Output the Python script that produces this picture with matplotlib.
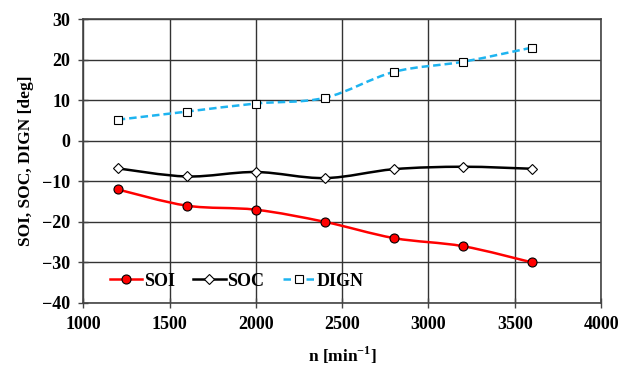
import numpy as np
import matplotlib.pyplot as plt
from matplotlib.path import Path
from matplotlib.patches import PathPatch
from matplotlib.lines import Line2D

plt.rcParams['font.family'] = ['Liberation Serif', 'DejaVu Serif']
plt.rcParams['font.weight'] = 'bold'
plt.rcParams['mathtext.fontset'] = 'custom'
plt.rcParams['mathtext.rm'] = 'Liberation Serif:bold'
plt.rcParams['mathtext.bf'] = 'Liberation Serif:bold'

rpm = [1200, 1600, 2000, 2400, 2800, 3200, 3600]
soi = [-12, -16, -17, -20, -24, -26, -30]
soc = [-6.8, -8.8, -7.7, -9.2, -7.0, -6.4, -6.9]
dign = [5.2, 7.2, 9.2, 10.6, 17.0, 19.5, 23.0]


def smooth_path(x, y):
    # Catmull-Rom style bezier, like Excel "smoothed line"
    pts = np.column_stack([x, y]).astype(float)
    verts = [pts[0]]
    codes = [Path.MOVETO]
    n = len(pts)
    for i in range(n - 1):
        p0 = pts[i - 1] if i > 0 else pts[i]
        p1 = pts[i]
        p2 = pts[i + 1]
        p3 = pts[i + 2] if i + 2 < n else pts[i + 1]
        c1 = p1 + (p2 - p0) / 6
        c2 = p2 - (p3 - p1) / 6
        verts += [c1, c2, p2]
        codes += [Path.CURVE4] * 3
    return Path(verts, codes)


fig = plt.figure(figsize=(6.21, 3.69), dpi=100)
ax = fig.add_axes([0.134, 0.179, 0.834, 0.769])

series = [
    (soi, '#ff0000', '-', 'o', '#ff0000', 6.5, 'SOI'),
    (soc, 'black', '-', 'D', 'white', 5, 'SOC'),
    (dign, '#1eb4f0', (0, (3, 1.6)), 's', 'white', 5.5, 'DIGN'),
]
handles = []
for vals, col, ls, mk, mfc, ms, lab in series:
    ax.add_patch(PathPatch(smooth_path(rpm, vals), fill=False, edgecolor=col,
                           lw=1.8, linestyle=ls, zorder=3))
    ax.plot(rpm, vals, linestyle='none', marker=mk, markersize=ms,
            markerfacecolor=mfc, markeredgecolor='black', markeredgewidth=0.8, zorder=4)
    handles.append(Line2D([], [], color=col, lw=1.8, linestyle=ls, marker=mk,
                          markersize=ms, markerfacecolor=mfc,
                          markeredgecolor='black', markeredgewidth=0.8, label=lab))

ax.set_xlim(1000, 4000)
ax.set_ylim(-40, 30)
ax.set_xticks(range(1000, 4001, 500))
ax.set_yticks(range(-40, 31, 10))
ax.grid(True, color='#333333', lw=1.0)
ax.set_axisbelow(True)
for s in ax.spines.values():
    s.set_color('#444444')
    s.set_linewidth(1.2)
ax.tick_params(labelsize=13, direction='inout', length=7, width=1, color='#444444', pad=6)
ax.set_xlabel('n [min$^{-1}$]', fontsize=12.5, fontweight='bold', labelpad=8)
ax.set_ylabel('SOI, SOC, DIGN [deg]', fontsize=12.5, fontweight='bold', labelpad=6)

ax.legend(handles=handles, loc='lower left', bbox_to_anchor=(0.02, -0.01), ncol=3,
          frameon=False, fontsize=13, handlelength=1.8, handletextpad=0.1,
          columnspacing=1.0)

fig.savefig('out.png', dpi=100)
